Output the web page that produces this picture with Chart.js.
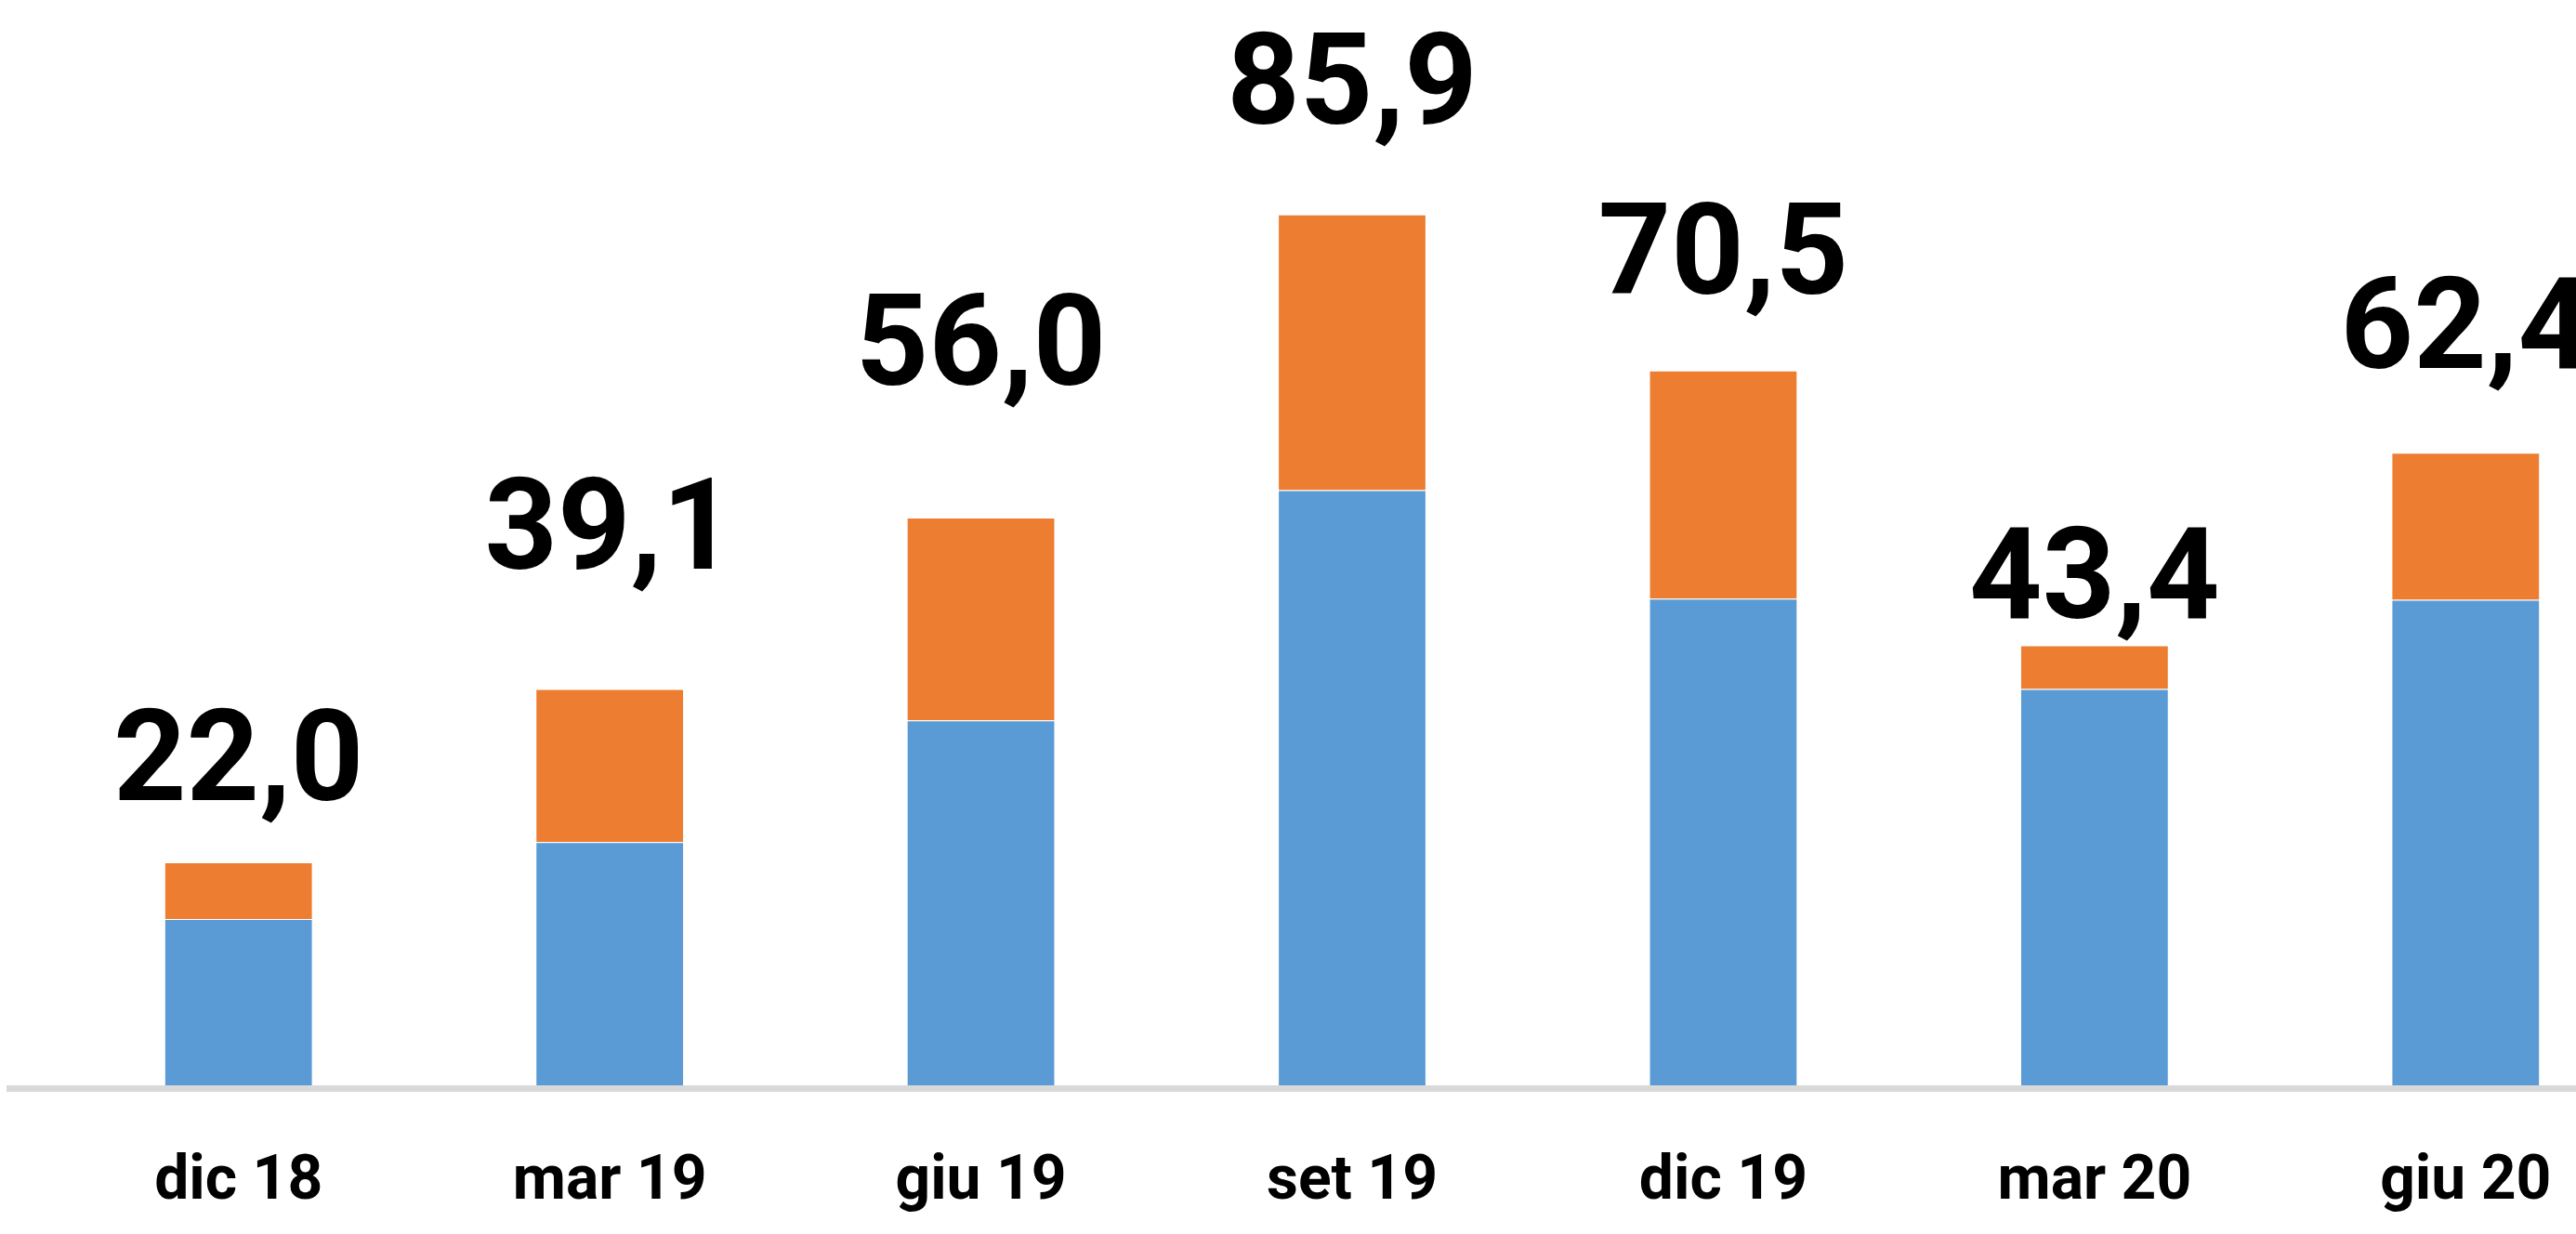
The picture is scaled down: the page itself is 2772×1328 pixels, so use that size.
<!DOCTYPE html>
<html lang="it">
<head>
<meta charset="utf-8">
<title>Grafico</title>
<script src="https://cdn.jsdelivr.net/npm/chart.js@4.4.1/dist/chart.umd.min.js"></script>
<style>
    html, body { margin: 0; padding: 0; background: #ffffff; overflow: hidden; }
    #grafico { display: block; }
</style>
</head>
<body>
<canvas id="grafico" width="2900" height="1328"></canvas>
<script>
// dati
const periodi = ["dic 18", "mar 19", "giu 19", "set 19", "dic 19", "mar 20", "giu 20"];
const serieBlu = [16.4, 24.0, 36.0, 58.7, 48.0, 39.1, 47.9];
const serieArancio = [5.6, 15.1, 20.0, 27.2, 22.5, 4.3, 14.5];
const totali = [22.0, 39.1, 56.0, 85.9, 70.5, 43.4, 62.4];

document.addEventListener("DOMContentLoaded", () => {
    // distanza (px) tra cima della barra e riga base dell'etichetta, come nell'originale
    const distanzaEtichette = [67, 129, 143, 98, 83, 30, 91];

    // linea grigia dell'asse, da sinistra fino al bordo
    const lineaAsse = {
        id: "lineaAsse",
        beforeDatasetsDraw(chart) {
            const ctx = chart.ctx;
            const y = chart.scales.y.getPixelForValue(0) + 3.5;
            ctx.save();
            ctx.strokeStyle = "#d9d9d9";
            ctx.lineWidth = 7;
            ctx.beginPath();
            ctx.moveTo(7, y);
            ctx.lineTo(chart.width, y);
            ctx.stroke();
            ctx.restore();
        },
    };

    // etichette con il totale sopra ogni barra
    const etichetteTotali = {
        id: "etichetteTotali",
        afterDatasetsDraw(chart) {
            const ctx = chart.ctx;
            const barre = chart.getDatasetMeta(1).data;
            ctx.save();
            ctx.font = "bold 137px Roboto";
            ctx.fillStyle = "#000000";
            ctx.textAlign = "center";
            ctx.textBaseline = "alphabetic";
            barre.forEach((barra, i) => {
                const testo = totali[i].toFixed(1).replace(".", ",");
                ctx.fillText(testo, barra.x, barra.y - distanzaEtichette[i]);
            });
            ctx.restore();
        },
    };

    const ctx = document.getElementById("grafico").getContext("2d");
    new Chart(ctx, {
        type: "bar",
        data: {
            labels: periodi,
            datasets: [
                {
                    label: "blu",
                    data: serieBlu,
                    backgroundColor: "#5b9bd5",
                    borderColor: "rgba(255, 255, 255, 0.5)",
                    borderWidth: 1,
                },
                {
                    label: "arancio",
                    data: serieArancio,
                    backgroundColor: "#ed7d31",
                    borderColor: "rgba(255, 255, 255, 0.5)",
                    borderWidth: 1,
                },
            ],
        },
        options: {
            responsive: false,
            animation: false,
            devicePixelRatio: 1,
            layout: {
                padding: { left: 57, right: 47, top: 77, bottom: 0 },
            },
            datasets: {
                bar: {
                    categoryPercentage: 1,
                    barPercentage: 0.4,
                },
            },
            plugins: {
                legend: { display: false },
                tooltip: { enabled: false },
            },
            scales: {
                x: {
                    stacked: true,
                    grid: { display: false },
                    border: { display: false },
                    ticks: {
                        color: "#000000",
                        padding: 58,
                        font: { family: "Roboto", weight: "bold", size: 66 },
                    },
                    afterFit(scale) {
                        scale.height = 160;
                    },
                },
                y: {
                    stacked: true,
                    display: false,
                    min: 0,
                    max: 100,
                },
            },
        },
        plugins: [lineaAsse, etichetteTotali],
    });
});
</script>
</body>
</html>
